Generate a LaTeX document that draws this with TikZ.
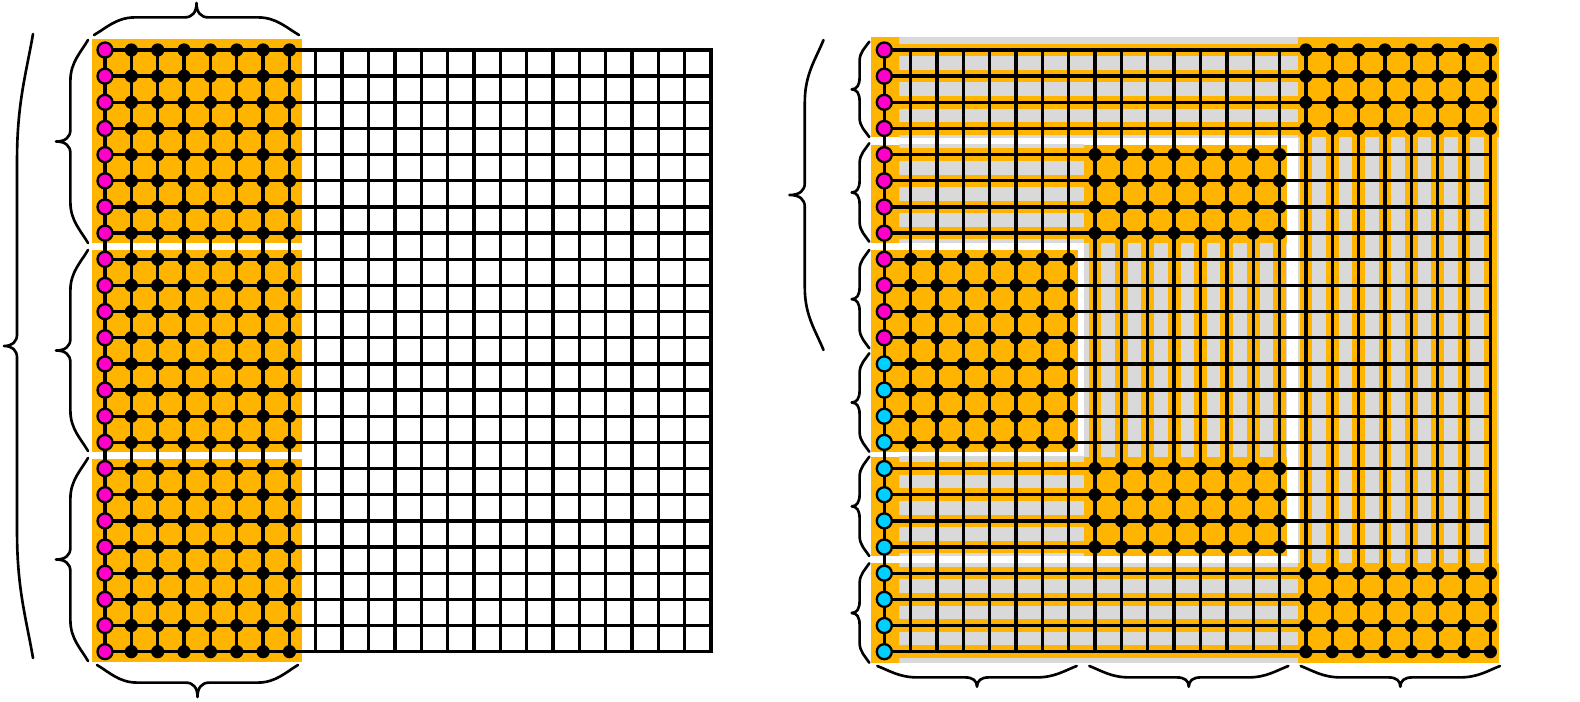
\documentclass[tikz,border=0pt]{standalone}
\usetikzlibrary{calc}
\definecolor{amber}{RGB}{255,180,0}
\definecolor{lgray}{RGB}{217,217,217}
\definecolor{mpink}{RGB}{255,0,200}
\definecolor{mcyan}{RGB}{0,208,255}
\tikzset{
  gridline/.style={line width=1.9pt, line cap=rect},
  pinknode/.style={circle, draw=black, line width=1.3pt, fill=mpink, minimum size=0.3cm, inner sep=0pt},
  cyannode/.style={pinknode, fill=mcyan},
  dotnode/.style={circle, fill=black, minimum size=0.265cm, inner sep=0pt},
  brc/.style={line width=1.5pt, line cap=round, line join=round},
}
% vertical brace, tip to the left: end x, y1, y2, amplitude
\newcommand{\mybracev}[4]{%
  \pgfmathsetmacro\qqE{#1}\pgfmathsetmacro\qqA{#2}\pgfmathsetmacro\qqB{#3}\pgfmathsetmacro\qqAm{#4}%
  \pgfmathsetmacro\qqM{(\qqA+\qqB)/2}\pgfmathsetmacro\qqH{(\qqB-\qqA)/2}%
  \pgfmathsetmacro\qqS{0.55*\qqAm}\pgfmathsetmacro\qqC{0.4*\qqH}\pgfmathsetmacro\qqD{min(12,0.25*\qqH)}%
  \pgfmathsetmacro\qqT{\qqE-\qqAm}\pgfmathsetmacro\qqX{\qqE-\qqS}\pgfmathsetmacro\qqK{\qqX-0.35*(\qqAm-\qqS)}%
  \draw[brc] (\qqE,\qqA) .. controls ({\qqE-0.4*\qqS},{\qqA+0.3*\qqC}) and (\qqX,{\qqA+0.55*\qqC}) .. (\qqX,{\qqA+\qqC})
    -- (\qqX,{\qqM-\qqD}) .. controls (\qqX,{\qqM-0.35*\qqD}) and (\qqK,\qqM) .. (\qqT,\qqM)
    .. controls (\qqK,\qqM) and (\qqX,{\qqM+0.35*\qqD}) .. (\qqX,{\qqM+\qqD})
    -- (\qqX,{\qqB-\qqC}) .. controls (\qqX,{\qqB-0.55*\qqC}) and ({\qqE-0.4*\qqS},{\qqB-0.3*\qqC}) .. (\qqE,\qqB);
}
% horizontal brace: end y, x1, x2, signed amplitude (positive = tip down)
\newcommand{\mybraceh}[4]{%
  \pgfmathsetmacro\qqE{#1}\pgfmathsetmacro\qqA{#2}\pgfmathsetmacro\qqB{#3}\pgfmathsetmacro\qqAm{#4}%
  \pgfmathsetmacro\qqM{(\qqA+\qqB)/2}\pgfmathsetmacro\qqH{(\qqB-\qqA)/2}%
  \pgfmathsetmacro\qqS{0.55*\qqAm}\pgfmathsetmacro\qqC{0.4*\qqH}\pgfmathsetmacro\qqD{min(12,0.25*\qqH)}%
  \pgfmathsetmacro\qqT{\qqE+\qqAm}\pgfmathsetmacro\qqX{\qqE+\qqS}\pgfmathsetmacro\qqK{\qqX+0.35*(\qqAm-\qqS)}%
  \draw[brc] (\qqA,\qqE) .. controls ({\qqA+0.3*\qqC},{\qqE+0.4*\qqS}) and ({\qqA+0.55*\qqC},\qqX) .. ({\qqA+\qqC},\qqX)
    -- ({\qqM-\qqD},\qqX) .. controls ({\qqM-0.35*\qqD},\qqX) and (\qqM,\qqK) .. (\qqM,\qqT)
    .. controls (\qqM,\qqK) and ({\qqM+0.35*\qqD},\qqX) .. ({\qqM+\qqD},\qqX)
    -- ({\qqB-\qqC},\qqX) .. controls ({\qqB-0.55*\qqC},\qqX) and ({\qqB-0.3*\qqC},{\qqE+0.4*\qqS}) .. (\qqB,\qqE);
}
% region with horizontal stripes: x1 x2 y1 y2 firstrow-1 lastrow
\newcommand{\hstripes}[6]{%
  \fill[amber] (#1,#3) rectangle (#2,#4);
  \begin{scope}
    \clip (899.3,#3) rectangle (#2,#4);
    \foreach \rs in {#5,...,#6} {\fill[lgray] (899.3,{50+26.16*(\rs+0.5)-6.8}) rectangle (#2,{50+26.16*(\rs+0.5)+6.8});}
  \end{scope}
}
% region with vertical stripes: x1 x2 y1 y2 firstcol-1 lastcol
\newcommand{\vstripes}[6]{%
  \fill[amber] (#1,#3) rectangle (#2,#4);
  \begin{scope}
    \clip (#1,#3) rectangle (#2,#4);
    \foreach \cs in {#5,...,#6} {\fill[lgray] ({884.3+26.35*(\cs+0.5)-6.8},#3) rectangle ({884.3+26.35*(\cs+0.5)+6.8},#4);}
  \end{scope}
}
\begin{document}
\begin{tikzpicture}[x=0.02cm, y=-0.02cm]
\useasboundingbox (0,0) rectangle (1580,702);

\foreach \ci in {0,...,23}{\foreach \ri in {0,...,23}{
  \coordinate (L-\ci-\ri) at ({105+26.35*\ci},{50+26.16*\ri});
  \coordinate (R-\ci-\ri) at ({884.3+26.35*\ci},{50+26.16*\ri});
}}

% left blocks
\fill[amber] (92.3,39) rectangle (301.7,242.7);
\fill[amber] (92.3,250) rectangle (301.7,451.7);
\fill[amber] (92.3,459) rectangle (301.7,661.7);

% right regions, outer level
\hstripes{871}{1298}{37.5}{137.5}{-1}{3}
\fill[amber] (1298,37.5) rectangle (1499,137.5);
\vstripes{1298}{1499}{137.5}{563.3}{15}{23}
\fill[amber] (1298,563.3) rectangle (1499,662.7);
\hstripes{871}{1298}{563.3}{662.7}{19}{23}
% middle level
\hstripes{871}{1084}{144.7}{243}{3}{7}
\fill[amber] (1084,144.7) rectangle (1287,243);
\vstripes{1084}{1287}{243}{457}{7}{15}
\fill[amber] (1084,457) rectangle (1287,556);
\hstripes{871}{1084}{457}{556}{15}{19}
% inner level
\fill[amber] (871,250) rectangle (1078.3,451.7);

% grid lines
\foreach \ri in {0,...,23}{
  \draw[gridline] (L-0-\ri) -- (L-23-\ri);
  \draw[gridline] (R-0-\ri) -- (R-23-\ri);
}
\foreach \ci in {0,...,23}{
  \draw[gridline] (L-\ci-0) -- (L-\ci-23);
  \draw[gridline] (R-\ci-0) -- (R-\ci-23);
}

% left nodes
\foreach \ri in {0,...,23}{
  \node[pinknode] (Lp-\ri) at (L-0-\ri) {};
  \foreach \ci in {1,...,7}{\node[dotnode] (Ld-\ci-\ri) at (L-\ci-\ri) {};}
}
% right nodes
\foreach \ri in {0,...,11}{\node[pinknode] (Rp-\ri) at (R-0-\ri) {};}
\foreach \ri in {12,...,23}{\node[cyannode] (Rp-\ri) at (R-0-\ri) {};}
\foreach \rr/\ca/\cb in {0/16/23,4/8/15,8/1/7,12/1/7,16/8/15,20/16/23}{
  \foreach \dr in {0,...,3}{
    \pgfmathtruncatemacro\rw{\rr+\dr}
    \foreach \ci in {\ca,...,\cb}{\node[dotnode] (Rd-\ci-\rw) at (R-\ci-\rw) {};}
  }
}

% braces, left grid
\mybracev{33}{34}{658}{29}
\mybracev{88}{40}{243}{32}
\mybracev{88}{250}{451}{32}
\mybracev{88}{458}{661}{32}
\mybraceh{35}{94}{299}{-32}
\mybraceh{665}{97}{298}{32}
% braces, right grid
\mybracev{823.5}{40}{350}{34}
\mybracev{869.3}{41.7}{137}{17.6}
\mybracev{869.3}{143.3}{241.7}{17.6}
\mybracev{869.3}{250}{348.3}{17.6}
\mybracev{869.3}{353.3}{451.7}{17.6}
\mybracev{869.3}{456.7}{556}{17.6}
\mybracev{869.3}{563.3}{662.7}{17.6}
\mybraceh{666}{877.3}{1076.7}{20.7}
\mybraceh{666}{1089.3}{1288.3}{20.7}
\mybraceh{666}{1300.7}{1500}{20.7}
\end{tikzpicture}
\end{document}
